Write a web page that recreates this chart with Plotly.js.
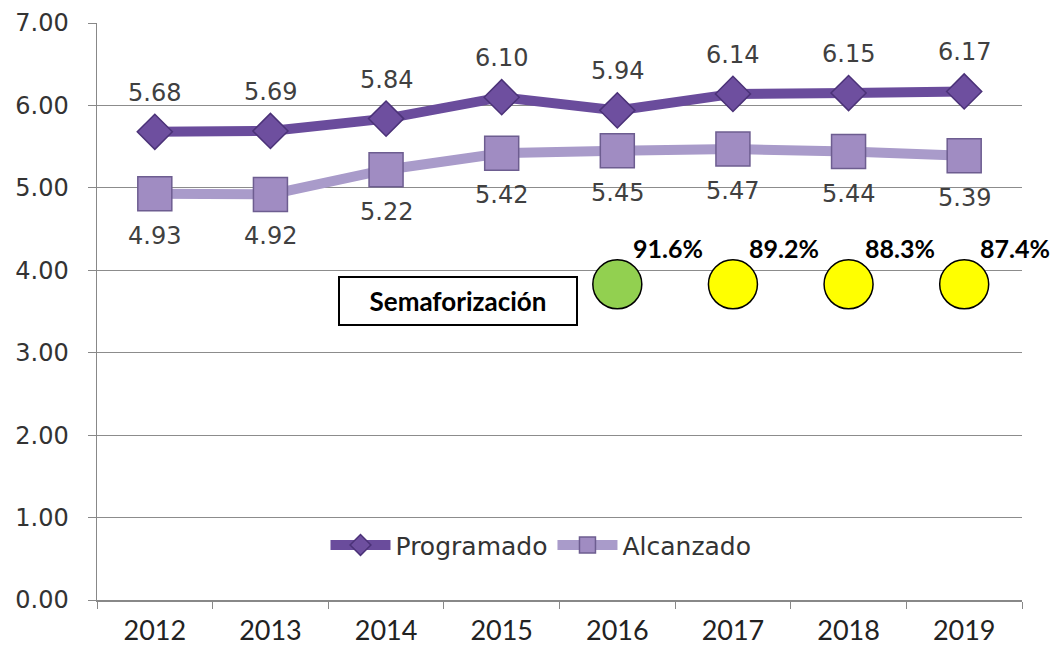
<!DOCTYPE html>
<html><head><meta charset="utf-8">
<script src="https://cdn.plot.ly/plotly-3.0.1.min.js"></script>
<style>body{margin:0;background:#fff}#chart{width:1050px;height:645px}</style>
</head><body><div id="chart"></div>
<script>
const years = ['2012','2013','2014','2015','2016','2017','2018','2019'];
const programado = [5.68, 5.69, 5.84, 6.10, 5.94, 6.14, 6.15, 6.17];
const alcanzado = [4.93, 4.92, 5.22, 5.42, 5.45, 5.47, 5.44, 5.39];
const semaforoYears = ['2016','2017','2018','2019'];
const semaforoPct = [91.6, 89.2, 88.3, 87.4];
const semaforoColors = ['#92d050','#ffff00','#ffff00','#ffff00'];
const semaforoLevel = 3.83;

const labelFont = {family:'DejaVu Sans, Verdana, sans-serif', size:24, color:'#404040'};
const annotations = [];
years.forEach((y,i)=>{
  annotations.push({x:i, y:programado[i], xref:'x', yref:'y', text:programado[i].toFixed(2),
    showarrow:false, yshift:39, font:labelFont});
  annotations.push({x:i, y:alcanzado[i], xref:'x', yref:'y', text:alcanzado[i].toFixed(2),
    showarrow:false, yshift:-42, font:labelFont});
});
semaforoYears.forEach((y,i)=>{
  annotations.push({x:years.indexOf(y), y:semaforoLevel, xref:'x', yref:'y', text:'<b>'+semaforoPct[i].toFixed(1)+'%</b>',
    showarrow:false, xshift:51, yshift:36, font:{family:'Lato, Carlito, sans-serif', size:25, color:'#000'}});
});
annotations.push({x:0.39, y:3.63, xref:'paper', yref:'y', text:'<b>Semaforización</b>', showarrow:false,
  width:236, height:46, bgcolor:'#fff', bordercolor:'#000', borderwidth:2, borderpad:0,
  font:{family:'Lato, Carlito, sans-serif', size:26, color:'#000'}});

const data = [
  {x:years, y:programado, name:'Programado', type:'scatter', mode:'lines+markers',
   line:{color:'#6a4c9c', width:10},
   marker:{symbol:'diamond', size:27, color:'#6e4f9f', line:{color:'#4b3278', width:1.5}}},
  {x:years, y:alcanzado, name:'Alcanzado', type:'scatter', mode:'lines+markers',
   line:{color:'#a99bca', width:10},
   marker:{symbol:'square', size:34, color:'#a08cc2', line:{color:'#6d5d90', width:1.5}}},
  {x:semaforoYears, y:semaforoYears.map(()=>semaforoLevel), type:'scatter', mode:'markers', showlegend:false,
   marker:{symbol:'circle', size:49, color:semaforoColors, line:{color:'#000', width:1.5}}}
];

const layout = {
  width:1050, height:645,
  margin:{l:97, r:28, t:23, b:45},
  paper_bgcolor:'#fff', plot_bgcolor:'#fff',
  showlegend:true,
  legend:{orientation:'h', x:0.48, xanchor:'center', y:0.095, yanchor:'middle',
    font:{family:'DejaVu Sans, Verdana, sans-serif', size:25, color:'#333'}, bgcolor:'rgba(255,255,255,0)',
    itemwidth:60, tracegroupgap:0},
  xaxis:{type:'category', range:[-0.5,7.5], showgrid:false, zeroline:false,
    showline:true, linecolor:'#888', linewidth:1.5, ticks:'outside', tickson:'boundaries', ticklen:7, tickcolor:'#888',
    ticklabelstandoff:6,
    tickfont:{family:'Lato, Carlito, sans-serif', size:27, color:'#222'}},
  yaxis:{range:[0,7], dtick:1, tickformat:'.2f', showgrid:true, gridcolor:'#8c8c8c', gridwidth:1.2,
    zeroline:false, showline:true, linecolor:'#888', linewidth:1.5, ticks:'outside', ticklen:8, tickcolor:'#888',
    ticklabelstandoff:14,
    tickfont:{family:'DejaVu Sans, Verdana, sans-serif', size:24, color:'#333'}},
  annotations:annotations
};
Plotly.newPlot('chart', data, layout, {displayModeBar:false, staticPlot:true});
</script></body></html>
